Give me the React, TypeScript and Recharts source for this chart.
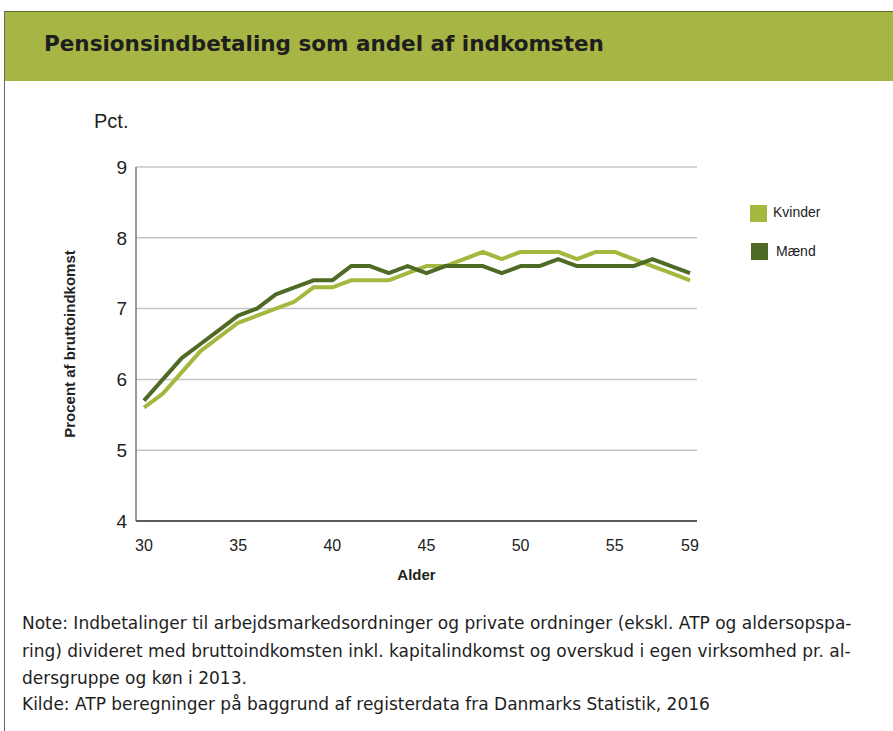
import React from "react";
import { LineChart, Line, XAxis, YAxis, CartesianGrid, Label } from "recharts";

const ages = [30,31,32,33,34,35,36,37,38,39,40,41,42,43,44,45,46,47,48,49,50,51,52,53,54,55,56,57,58,59];
const kvinder = [5.6,5.8,6.1,6.4,6.6,6.8,6.9,7.0,7.1,7.3,7.3,7.4,7.4,7.4,7.5,7.6,7.6,7.7,7.8,7.7,7.8,7.8,7.8,7.7,7.8,7.8,7.7,7.6,7.5,7.4];
const maend = [5.7,6.0,6.3,6.5,6.7,6.9,7.0,7.2,7.3,7.4,7.4,7.6,7.6,7.5,7.6,7.5,7.6,7.6,7.6,7.5,7.6,7.6,7.7,7.6,7.6,7.6,7.6,7.7,7.6,7.5];
const xTicks = [30,35,40,45,50,55,59];
const yTicks = [4,5,6,7,8,9];
const seriesNames = ["Kvinder", "Mænd"];

const data = ages.map((a, i) => ({ age: a, Kvinder: kvinder[i], Maend: maend[i] }));

const LIGHT = "#A4B73F";
const DARK = "#4E6A24";
const FONT = "'Liberation Sans', Arial, Helvetica, sans-serif";
const WIDE = "'DejaVu Sans', Verdana, sans-serif";

export default function App() {
  return (
    <div style={{ position: "absolute", left: 0, top: 0, width: 893, height: 731, background: "#fff", fontFamily: FONT, overflow: "hidden" }}>
      <div style={{ position: "absolute", left: 4, top: 11, width: 889, height: 69, background: "#A6B543", borderTop: "1px solid #5C6B2A" }} />
      <div style={{ position: "absolute", left: 4, top: 11, width: 0, height: 720, borderLeft: "1px solid #666" }} />
      <div style={{ position: "absolute", left: 44, top: 31, fontFamily: WIDE, fontWeight: 700, fontSize: 21.5, color: "#1e1e1e", whiteSpace: "nowrap" }}>
        Pensionsindbetaling som andel af indkomsten
      </div>
      <div style={{ position: "absolute", left: 94, top: 110, fontSize: 20, color: "#222" }}>Pct.</div>
      <div style={{ position: "absolute", left: 0, top: 0 }}>
        <LineChart width={893} height={731} data={data} margin={{ top: 167, right: 196, bottom: 180, left: 76 }}>
          <CartesianGrid vertical={false} stroke="#C4C4C4" strokeWidth={1.5} />
          <XAxis
            dataKey="age"
            type="number"
            domain={[30, 59]}
            ticks={xTicks}
            padding={{ left: 8, right: 7 }}
            height={30}
            tickLine={false}
            tickSize={0}
            tickMargin={19}
            axisLine={{ stroke: "#333", strokeWidth: 1.5 }}
            tick={{ fill: "#222", fontSize: 16, fontFamily: FONT }}
          >
            <Label value="Alder" position="bottom" offset={18} style={{ fontWeight: 700, fontSize: 15, fill: "#222", fontFamily: FONT }} />
          </XAxis>
          <YAxis
            domain={[4, 9]}
            ticks={yTicks}
            width={60}
            tickLine={false}
            tickSize={0}
            tickMargin={9}
            axisLine={{ stroke: "#777", strokeWidth: 1.5 }}
            tick={{ fill: "#222", fontSize: 19, fontFamily: FONT }}
          >
            <Label value="Procent af bruttoindkomst" angle={-90} position="insideLeft" offset={0} dx={-6} dy={0}
              style={{ fontWeight: 700, fontSize: 15, fill: "#222", fontFamily: FONT, textAnchor: "middle" }} />
          </YAxis>
          <Line dataKey="Kvinder" name={seriesNames[0]} stroke={LIGHT} strokeWidth={4} dot={false} isAnimationActive={false} strokeLinejoin="round" />
          <Line dataKey="Maend" name={seriesNames[1]} stroke={DARK} strokeWidth={4} dot={false} isAnimationActive={false} strokeLinejoin="round" />
        </LineChart>
      </div>
      <div style={{ position: "absolute", left: 750, top: 205, width: 17, height: 17, background: LIGHT }} />
      <div style={{ position: "absolute", left: 773, top: 204, fontSize: 14, color: "#222" }}>{seriesNames[0]}</div>
      <div style={{ position: "absolute", left: 751, top: 243, width: 17, height: 17, background: DARK }} />
      <div style={{ position: "absolute", left: 776, top: 243, fontSize: 14, color: "#222" }}>{seriesNames[1]}</div>
      <div style={{ position: "absolute", left: 22, top: 610, fontFamily: WIDE, fontSize: 17, lineHeight: "27.5px", color: "#1e1e1e", whiteSpace: "nowrap" }}>
        <div>Note: Indbetalinger til arbejdsmarkedsordninger og private ordninger (ekskl. ATP og aldersopspa-</div>
        <div>ring) divideret med bruttoindkomsten inkl. kapitalindkomst og overskud i egen virksomhed pr. al-</div>
        <div>dersgruppe og køn i 2013.</div>
        <div style={{ marginTop: -2 }}>Kilde: ATP beregninger på baggrund af registerdata fra Danmarks Statistik, 2016</div>
      </div>
    </div>
  );
}
